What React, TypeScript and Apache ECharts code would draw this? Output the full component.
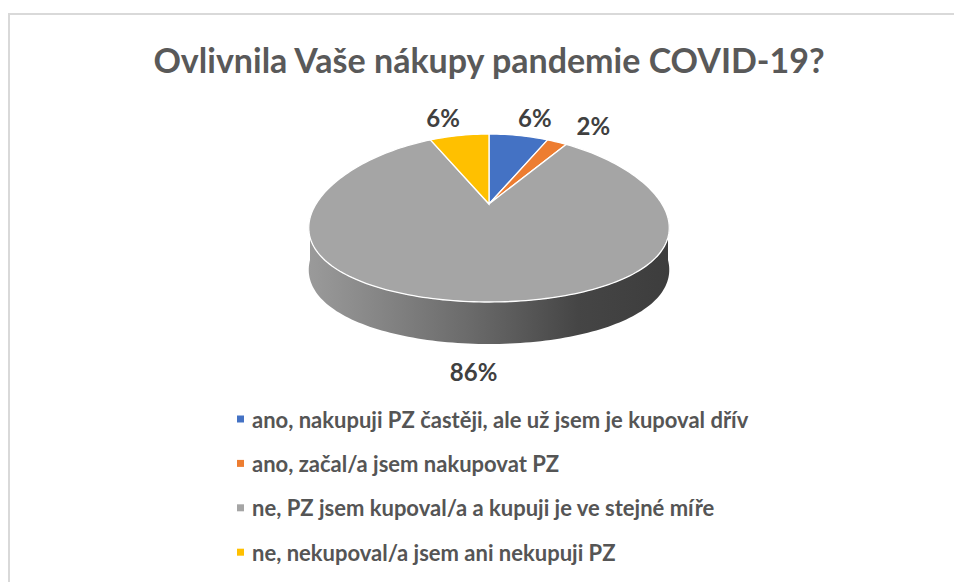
import React, { useEffect, useRef } from "react";
import * as echarts from "echarts";

const chartTitle = "Ovlivnila Vaše nákupy pandemie COVID-19?";
const categories = [
  "ano, nakupuji PZ častěji, ale už jsem je kupoval dřív",
  "ano, začal/a jsem nakupovat PZ",
  "ne, PZ jsem kupoval/a a kupuji je ve stejné míře",
  "ne, nekupoval/a jsem ani nekupuji PZ",
];
const shares = [6, 2, 86, 6];
const colors = ["#4472C4", "#ED7D31", "#A5A5A5", "#FFC000"];

// geometry of the tilted pie
const CX = 489;
const CY = 218;
const RX = 179;
const RY = 84;
const APEX_DY = -14;
const DEPTH = 42;
const PERSP = 0.12;

function pt(deg: number, dy = 0): number[] {
  const t = (deg * Math.PI) / 180;
  const s = Math.sin(t);
  const c = Math.cos(t);
  const f = 1 - PERSP * c;
  return [CX + RX * s * f, CY - RY * c + dy];
}

function arcPts(a0: number, a1: number, dy = 0): number[][] {
  const n = Math.max(2, Math.ceil(Math.abs(a1 - a0) / 1.5));
  const out: number[][] = [];
  for (let k = 0; k <= n; k++) out.push(pt(a0 + ((a1 - a0) * k) / n, dy));
  return out;
}

export default function App() {
  const ref = useRef<HTMLDivElement>(null);
  useEffect(() => {
    if (!ref.current) return;
    const chart = echarts.init(ref.current, undefined, { renderer: "svg" });
    const total = shares.reduce((a, b) => a + b, 0);
    let acc = 0;
    const sliceData = shares.map((v, i) => {
      const s = acc;
      acc += v;
      return { value: [(s / total) * 360, (acc / total) * 360, v], name: categories[i] };
    });
    const sideGrad = new echarts.graphic.LinearGradient(
      CX - RX, 0, CX + RX, 0,
      [
        { offset: 0, color: "#9a9a9a" },
        { offset: 0.45, color: "#6a6a6a" },
        { offset: 0.75, color: "#454545" },
        { offset: 1, color: "#3d3d3d" },
      ],
      true
    );
    const option: any = {
      animation: false,
      backgroundColor: "#ffffff",
      title: {
        text: chartTitle,
        left: 484,
        textAlign: "center",
        top: 37,
        textStyle: { fontFamily: "Lato", fontWeight: "bold", fontSize: 34, color: "#595959" },
      },
      legend: {
        orient: "vertical",
        left: 232,
        top: 401,
        icon: "rect",
        itemWidth: 7,
        itemHeight: 7,
        itemGap: 18.4,
        data: categories,
        textStyle: {
          fontFamily: "Lato",
          fontWeight: "bold",
          fontSize: 22,
          color: "#555555",
          lineHeight: 26,
          padding: [0, 0, 0, 3],
        },
      },
      graphic: [
        {
          type: "rect",
          shape: { x: 9, y: 14, width: 1000, height: 1000 },
          style: { fill: "none", stroke: "#d9d9d9", lineWidth: 2 },
          silent: true,
        },
      ],
      series: [
        {
          type: "pie",
          radius: [0, 0],
          center: [CX, CY],
          silent: true,
          label: { show: false },
          labelLine: { show: false },
          data: categories.map((n, i) => ({ name: n, value: shares[i], itemStyle: { color: colors[i] } })),
        },
        {
          type: "custom",
          coordinateSystem: "none",
          data: sliceData,
          renderItem: (params: any, api: any) => {
            const i = params.dataIndex;
            const a0 = api.value(0);
            const a1 = api.value(1);
            const v = api.value(2);
            const children: any[] = [];
            const s0 = Math.max(a0, 90);
            const s1 = Math.min(a1, 270);
            if (s1 > s0) {
              const top = arcPts(s0, s1, 0);
              const bot = arcPts(s1, s0, DEPTH);
              children.push({
                type: "polygon",
                shape: { points: top.concat(bot) },
                style: { fill: sideGrad, stroke: "none" },
              });
            }
            const apex = [CX, CY + APEX_DY];
            children.push({
              type: "polygon",
              shape: { points: [apex].concat(arcPts(a0, a1, 0)) },
              style: { fill: colors[i], stroke: "#ffffff", lineWidth: 1.3 },
            });
            const mid = ((a0 + a1) / 2) * (Math.PI / 180);
            const lx = CX + 245 * Math.sin(mid);
            const c = Math.cos(mid);
            const ly = CY - 102 * c + (c < 0 ? DEPTH + 10 : 0);
            children.push({
              type: "text",
              style: {
                x: lx,
                y: ly,
                text: `${v}%`,
                align: "center",
                verticalAlign: "middle",
                fontFamily: "Lato",
                fontWeight: "bold",
                fontSize: 24,
                fill: "#404040",
              },
            });
            return { type: "group", children };
          },
        },
      ],
    };
    chart.setOption(option);
    return () => chart.dispose();
  }, []);
  return (
    <div
      ref={ref}
      style={{ position: "fixed", left: 0, top: 0, width: 954, height: 582, background: "#fff" }}
    />
  );
}
